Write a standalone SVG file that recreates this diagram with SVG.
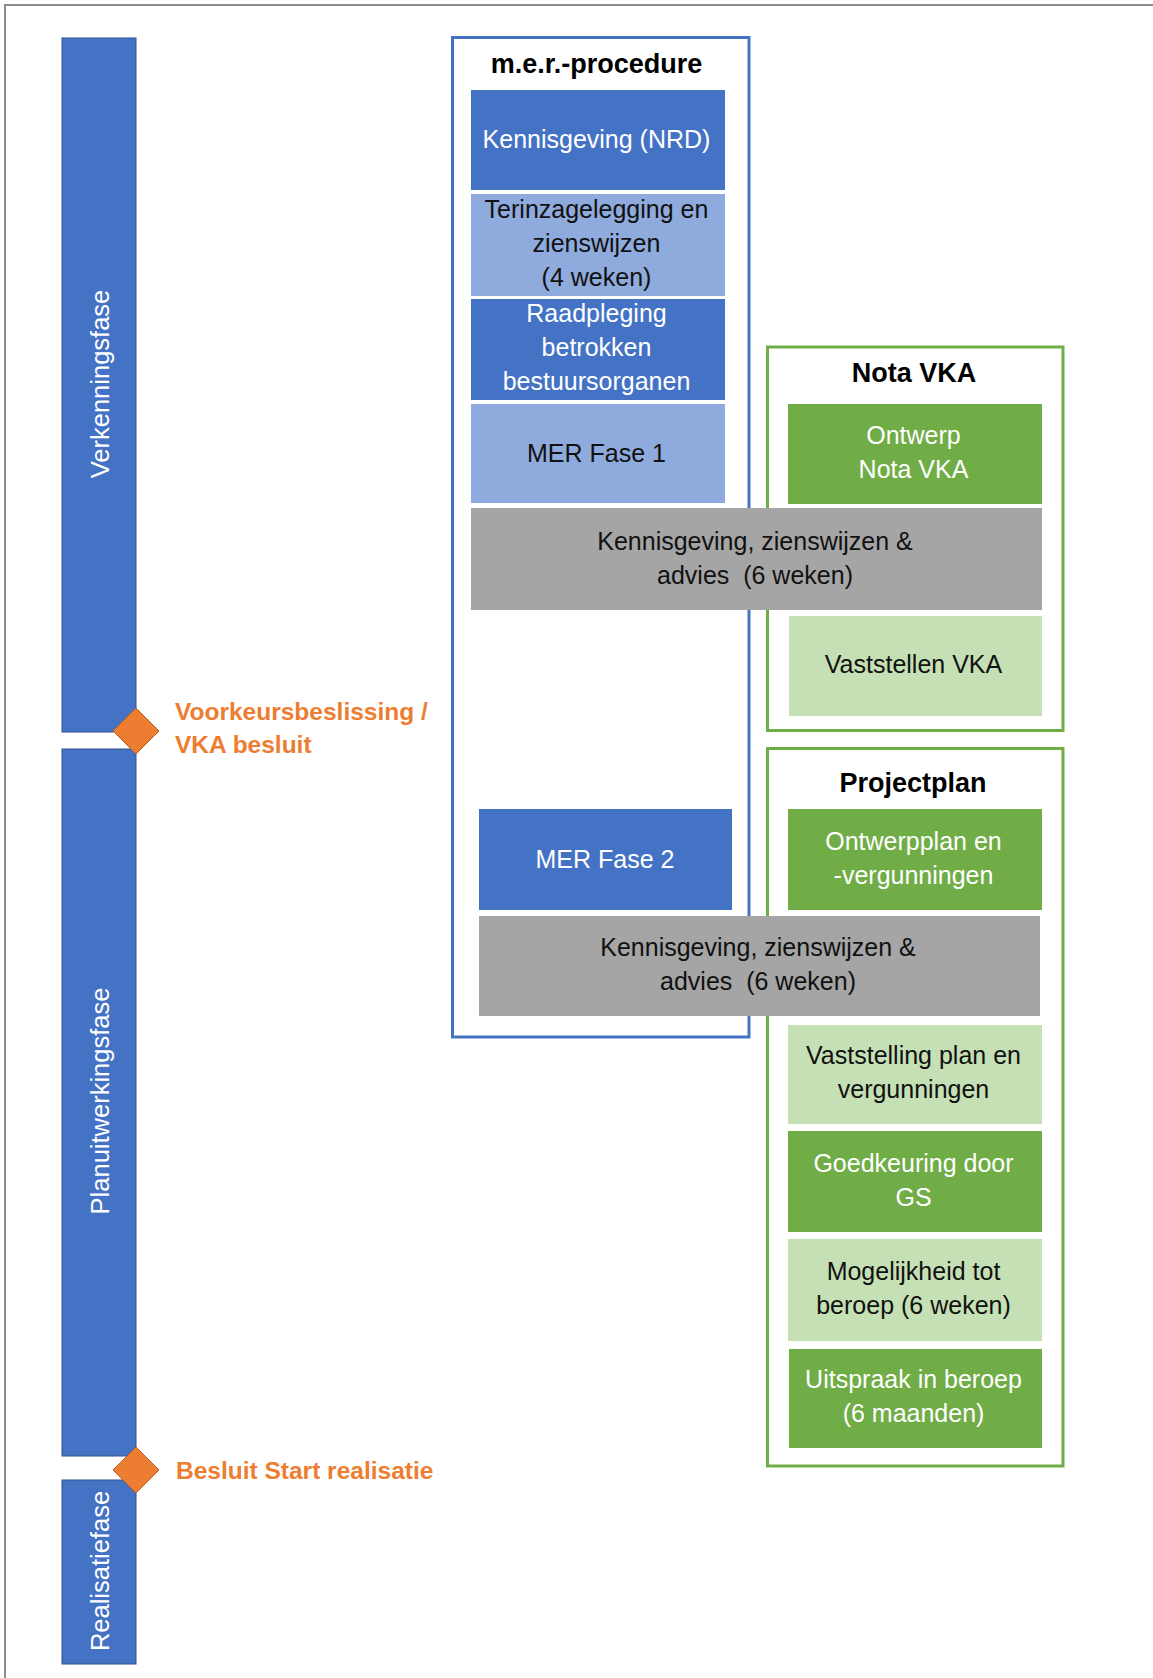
<svg xmlns="http://www.w3.org/2000/svg" width="1153" height="1678" viewBox="0 0 1153 1678">
<style>
  text { font-family: "Liberation Sans", Arial, sans-serif; }
  .phase { fill: #4472C4; stroke: #2F528F; stroke-width: 1; }
  .phlabel { fill: #ffffff; font-size: 25.5px; text-anchor: middle; }
  .ms { fill: #ED7D31; stroke: #B85F22; stroke-width: 1; }
  .mslabel { fill: #ED7D31; font-size: 24.5px; font-weight: bold; }
  .frame-blue { fill: none; stroke: #4472C4; stroke-width: 3; }
  .frame-green { fill: none; stroke: #70AD47; stroke-width: 3; }
  .title { fill: #000000; font-size: 27px; font-weight: bold; text-anchor: middle; }
  .dblue { fill: #4472C4; }
  .lblue { fill: #8FAADC; }
  .gray { fill: #A5A5A5; }
  .dgreen { fill: #70AD47; }
  .lgreen { fill: #C5E0B4; }
  .tw { fill: #ffffff; font-size: 25px; text-anchor: middle; }
  .tk { fill: #111111; font-size: 25px; text-anchor: middle; }
</style>

<rect x="0" y="0" width="1153" height="1678" fill="#ffffff"/>
<path d="M5 1678 V5 H1153" fill="none" stroke="#8C8C8C" stroke-width="2"/>

<g id="phase-verkenning">
  <rect class="phase" x="62" y="38" width="74" height="694"/>
  <text class="phlabel" transform="translate(109,384) rotate(-90)">Verkenningsfase</text>
</g>
<g id="phase-planuitwerking">
  <rect class="phase" x="62" y="749" width="74" height="707"/>
  <text class="phlabel" transform="translate(109,1101) rotate(-90)">Planuitwerkingsfase</text>
</g>
<g id="phase-realisatie">
  <rect class="phase" x="62" y="1480" width="74" height="184"/>
  <text class="phlabel" transform="translate(109,1571) rotate(-90)">Realisatiefase</text>
</g>

<g id="milestone-vka">
  <polygon class="ms" points="136,708 159,731 136,754 113,731"/>
  <text class="mslabel" x="175" y="720">Voorkeursbeslissing /</text>
  <text class="mslabel" x="175" y="753">VKA besluit</text>
</g>
<g id="milestone-realisatie">
  <polygon class="ms" points="136,1447 159,1470 136,1493 113,1470"/>
  <text class="mslabel" x="176" y="1479">Besluit Start realisatie</text>
</g>

<g id="mer-procedure">
  <rect class="frame-blue" x="452.5" y="37.5" width="296.5" height="999.5"/>
  <text class="title" x="596.5" y="73">m.e.r.-procedure</text>
</g>
<g id="nota-vka">
  <rect class="frame-green" x="767.5" y="347" width="295.5" height="383.5"/>
  <text class="title" x="914" y="382">Nota VKA</text>
</g>
<g id="projectplan">
  <rect class="frame-green" x="767.5" y="748.5" width="295.5" height="717.5"/>
  <text class="title" x="913" y="792">Projectplan</text>
</g>

<g id="kennisgeving-nrd">
  <rect class="dblue" x="471" y="90" width="254" height="100"/>
  <text class="tw" x="596.5" y="148">Kennisgeving (NRD)</text>
</g>
<g id="terinzagelegging">
  <rect class="lblue" x="471" y="194" width="254" height="102"/>
  <text class="tk" x="596.5" y="218">Terinzagelegging en</text>
  <text class="tk" x="596.5" y="252">zienswijzen</text>
  <text class="tk" x="596.5" y="286">(4 weken)</text>
</g>
<g id="raadpleging">
  <rect class="dblue" x="471" y="299" width="254" height="101"/>
  <text class="tw" x="596.5" y="322">Raadpleging</text>
  <text class="tw" x="596.5" y="356">betrokken</text>
  <text class="tw" x="596.5" y="390">bestuursorganen</text>
</g>
<g id="mer-fase-1">
  <rect class="lblue" x="471" y="404" width="254" height="99"/>
  <text class="tk" x="596.5" y="462">MER Fase 1</text>
</g>

<g id="ontwerp-nota-vka">
  <rect class="dgreen" x="788" y="404" width="254" height="100"/>
  <text class="tw" x="913.5" y="444">Ontwerp</text>
  <text class="tw" x="913.5" y="478">Nota VKA</text>
</g>
<g id="kennisgeving-1">
  <rect class="gray" x="471" y="508" width="571" height="102"/>
  <text class="tk" x="755" y="550">Kennisgeving, zienswijzen &amp;</text>
  <text class="tk" x="755" y="584" xml:space="preserve">advies  (6 weken)</text>
</g>
<g id="vaststellen-vka">
  <rect class="lgreen" x="789" y="616" width="253" height="100"/>
  <text class="tk" x="913.5" y="673">Vaststellen VKA</text>
</g>

<g id="mer-fase-2">
  <rect class="dblue" x="479" y="809" width="253" height="101"/>
  <text class="tw" x="605" y="868">MER Fase 2</text>
</g>
<g id="ontwerpplan">
  <rect class="dgreen" x="788" y="809" width="254" height="101"/>
  <text class="tw" x="913.5" y="850">Ontwerpplan en</text>
  <text class="tw" x="913.5" y="884">-vergunningen</text>
</g>
<g id="kennisgeving-2">
  <rect class="gray" x="479" y="916" width="561" height="100"/>
  <text class="tk" x="758" y="956">Kennisgeving, zienswijzen &amp;</text>
  <text class="tk" x="758" y="990" xml:space="preserve">advies  (6 weken)</text>
</g>
<g id="vaststelling-plan">
  <rect class="lgreen" x="788" y="1025" width="254" height="99"/>
  <text class="tk" x="913.5" y="1064">Vaststelling plan en</text>
  <text class="tk" x="913.5" y="1098">vergunningen</text>
</g>
<g id="goedkeuring-gs">
  <rect class="dgreen" x="788" y="1131" width="254" height="101"/>
  <text class="tw" x="913.5" y="1172">Goedkeuring door</text>
  <text class="tw" x="913.5" y="1206">GS</text>
</g>
<g id="mogelijkheid-beroep">
  <rect class="lgreen" x="788" y="1239" width="254" height="102"/>
  <text class="tk" x="913.5" y="1280">Mogelijkheid tot</text>
  <text class="tk" x="913.5" y="1314">beroep (6 weken)</text>
</g>
<g id="uitspraak-beroep">
  <rect class="dgreen" x="789" y="1349" width="253" height="99"/>
  <text class="tw" x="913.5" y="1388">Uitspraak in beroep</text>
  <text class="tw" x="913.5" y="1422">(6 maanden)</text>
</g>

<g id="connectors"></g>
</svg>
